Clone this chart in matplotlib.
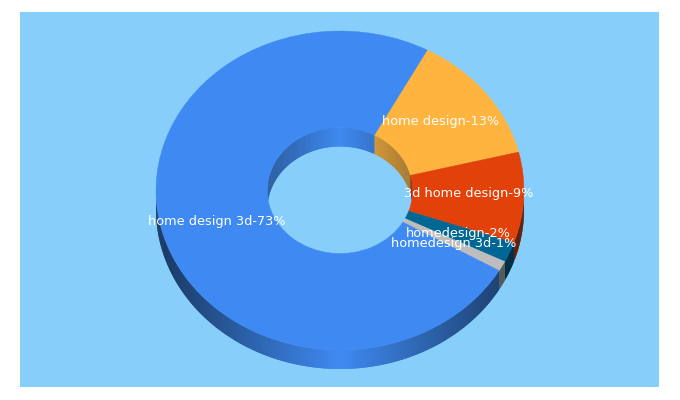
import numpy as np
import matplotlib
matplotlib.use('Agg')
import matplotlib.pyplot as plt
from matplotlib.patches import Wedge
from matplotlib.transforms import Affine2D
from matplotlib.colors import to_rgb

# dados do grafico
labels = ['home design 3d', 'home design', '3d home design', 'homedesign', 'homedesign 3d']
percent = [73, 13, 9, 2, 1]
colors = ['#3f8af2', '#ffb43f', '#e2420a', '#006794', '#bdbdbd']

# posicao dos textos em pixels
label_x = [216.5, 441, 468.5, 458, 453.5]
label_y = [221, 122, 194, 233, 243]

# geometria da rosca
cx, cy = 340, 190.5
rx, ry = 184, 159.5
hole = 0.395
depth = 19
start_angle = 61.7


def shade(color, ang, dark):
    # lateral fica mais escura perto das pontas da elipse
    f = 1 - dark * abs(np.cos(np.radians(ang)))
    return tuple(c * f for c in to_rgb(color))


def wall(ax, a1, a2, radius, color, dark):
    # faixa lateral em pedacos que se sobrepoem, para nao aparecer emenda
    steps = np.arange(a1, a2, 0.5)
    for a in steps:
        b = min(a + 1.0, a2)
        xa, ya = cx + rx * radius * np.cos(np.radians(a)), cy - ry * radius * np.sin(np.radians(a))
        xb, yb = cx + rx * radius * np.cos(np.radians(b)), cy - ry * radius * np.sin(np.radians(b))
        ax.fill([xa, xb, xb, xa], [ya, yb, yb + depth, ya + depth],
                color=shade(color, a + 0.25, dark), linewidth=0, zorder=2)


fig = plt.figure(figsize=(6.8, 4), dpi=100)
ax = fig.add_axes([20 / 680, 13 / 400, 639 / 680, 375 / 400], facecolor='#87cefa')
ax.set_xlim(20, 659)
ax.set_ylim(387, 12)
ax.set_xticks([])
ax.set_yticks([])
for s in ax.spines.values():
    s.set_visible(False)

# os valores somam 98, entao o angulo e proporcional ao total
sizes = np.array(percent) / sum(percent) * 360
order = [1, 2, 3, 4, 0]  # sentido horario a partir de start_angle
ends = start_angle - np.cumsum(sizes[order])
begins = ends + sizes[order]

face = Affine2D().scale(rx, -ry).translate(cx, cy) + ax.transData

for i, a2, a1 in zip(order, begins, ends):
    # parede interna (lado de tras, 0 a 180 graus)
    for off in (0, 360):
        lo, hi = max(a1 + off, 0), min(a2 + off, 180)
        if hi > lo:
            wall(ax, lo, hi, hole, colors[i], 0.35)
    # parede externa (lado da frente, 180 a 360 graus)
    for off in (0, 360):
        lo, hi = max(a1 + off, 180), min(a2 + off, 360)
        if hi > lo:
            wall(ax, lo, hi, 1, colors[i], 0.6)

for i, a2, a1 in zip(order, begins, ends):
    w = Wedge((0, 0), 1, a1, a2, width=1 - hole, facecolor=colors[i],
              edgecolor=colors[i], linewidth=0.3, transform=face, zorder=3)
    ax.add_patch(w)

for name, p, x, y in zip(labels, percent, label_x, label_y):
    ax.text(x, y, f'{name}-{p}%', color='white', fontsize=9.3, ha='center',
            va='center', family='DejaVu Sans', zorder=4)

fig.savefig('out.png', dpi=100, facecolor='white')
